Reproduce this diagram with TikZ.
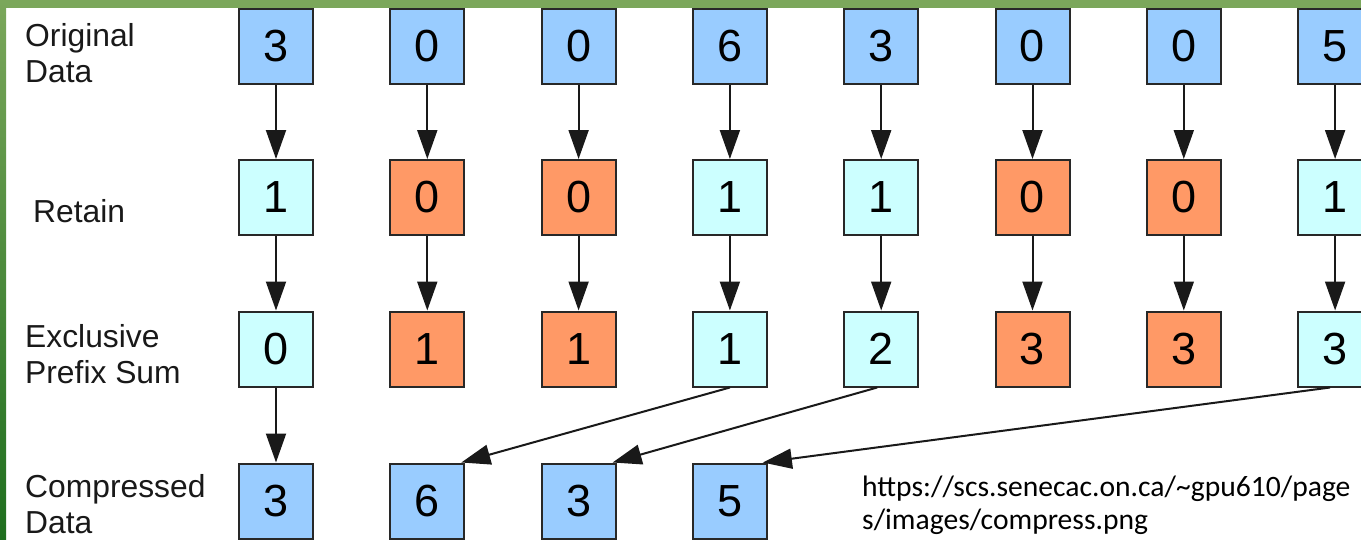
\documentclass[tikz,border=0pt]{standalone}
\usepackage{fontspec}
\setmainfont{Liberation Sans}
\newfontfamily\urlfont{Carlito}
\usetikzlibrary{arrows.meta}
\definecolor{gtop}{RGB}{123,167,91}
\definecolor{gbot}{RGB}{30,110,30}
\definecolor{dblue}{RGB}{153,204,255}
\definecolor{dcyan}{RGB}{204,255,255}
\definecolor{dorange}{RGB}{255,153,102}
\definecolor{edge}{RGB}{40,40,40}
\tikzset{
  cell/.style={draw=edge, line width=2pt, minimum width=74pt, minimum height=75pt, inner sep=0pt,
    font=\fontsize{45}{45}\selectfont},
  bluecell/.style={cell, fill=dblue},
  keepcell/.style={cell, fill=dcyan},
  dropcell/.style={cell, fill=dorange},
  rowlabel/.style={anchor=base west, inner sep=0pt, align=left, font=\fontsize{31.8}{36}\selectfont, text=black!90},
  flow/.style={draw=black!90, line width=2pt, -{Triangle[length=29pt,width=20pt]}, shorten >=0pt},
}
\begin{document}
\begin{tikzpicture}[x=1pt,y=-1pt]
\useasboundingbox (0,0) rectangle (1361,539);
\fill[white] (0,0) rectangle (1361,539);
\clip (0,0) rectangle (1361,539);
% green frame
\fill[gtop] (0,0) rectangle (1361,8);
\shade[top color=gtop, bottom color=gbot] (0,0) rectangle (6,539);
% labels (base anchor = baseline of last line)
\node[rowlabel] (lorig) at (25,82) {Original\\Data};
\node[rowlabel] (lret) at (33,222) {Retain};
\node[rowlabel] (lpre) at (25,383) {Exclusive\\Prefix Sum};
\node[rowlabel] (lcomp) at (25,533) {Compressed\\Data};
% rows
\foreach \i/\v in {1/3,2/0,3/0,4/6,5/3,6/0,7/0,8/5}{
  \node[bluecell] (o\i) at ({276+151.3*(\i-1)},46.5) {\v};
}
\foreach \i/\v/\s in {1/1/keepcell,2/0/dropcell,3/0/dropcell,4/1/keepcell,5/1/keepcell,6/0/dropcell,7/0/dropcell,8/1/keepcell}{
  \node[\s] (r\i) at ({276+151.3*(\i-1)},197.5) {\v};
}
\foreach \i/\v/\s in {1/0/keepcell,2/1/dropcell,3/1/dropcell,4/1/keepcell,5/2/keepcell,6/3/dropcell,7/3/dropcell,8/3/keepcell}{
  \node[\s] (p\i) at ({276+151.3*(\i-1)},349) {\v};
}
\foreach \i/\v in {1/3,2/6,3/3,4/5}{
  \node[bluecell] (c\i) at ({276+151.3*(\i-1)},501) {\v};
}
% vertical connectors
\foreach \i in {1,...,8}{
  \draw[flow] (o\i) -- (r\i);
  \draw[flow] (r\i) -- (p\i);
}
\draw[flow] (p1) -- (c1);
% diagonal connectors
\draw[flow] (p4.south) -- ([xshift=-4pt]c2.north east);
\draw[flow] ([xshift=-4pt]p5.south) -- ([xshift=-4pt]c3.north east);
\draw[flow] ([xshift=-5pt]p8.south) -- ([xshift=-5pt]c4.north east);
% source note
\node[anchor=base west, inner sep=0pt, align=left, font=\urlfont\fontsize{29.6}{33}\selectfont] (src) at (862,529)
  {https://scs.senecac.on.ca/\textasciitilde gpu610/page\\s/images/compress.png};
\end{tikzpicture}
\end{document}
